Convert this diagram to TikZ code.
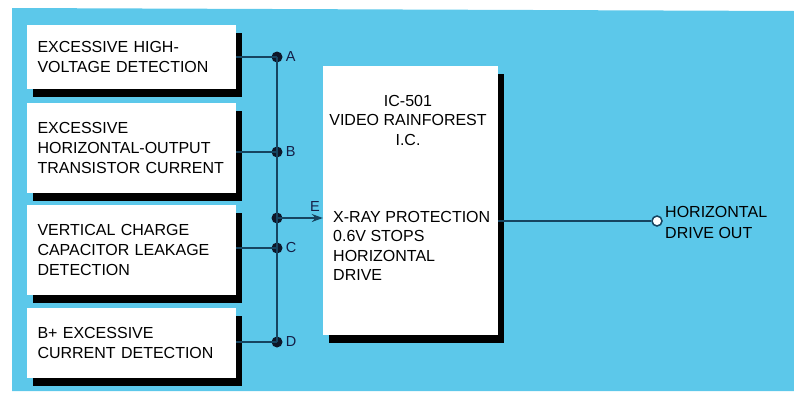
\documentclass[tikz,border=0pt]{standalone}
\usepackage{fontspec}
\setmainfont{Liberation Sans}
\usepackage{tikz}
\usetikzlibrary{arrows.meta,positioning,shadows}
\definecolor{panelblue}{RGB}{92,200,234}
\definecolor{wirecol}{RGB}{22,68,96}
\definecolor{dotcol}{RGB}{14,22,40}
\definecolor{labcol}{RGB}{20,30,70}
\tikzset{
  blk/.style={fill=white, inner sep=0pt, text width=188pt, align=left,
              font=\fontsize{16}{20}\selectfont,
              drop shadow={shadow xshift=6pt, shadow yshift=-8pt, fill=black, opacity=1}},
  icbox/.style={fill=white, minimum width=175pt, minimum height=269pt,
              drop shadow={shadow xshift=6pt, shadow yshift=-8pt, fill=black, opacity=1}},
  ictxt/.style={inner sep=0pt, font=\fontsize{16}{19.5}\selectfont},
  wire/.style={wirecol, line width=1.5pt},
  feed/.style={-{Stealth[length=11pt,width=8pt]}, wirecol, line width=1.5pt},
  jdot/.style={circle, fill=dotcol, inner sep=0pt, minimum size=11pt},
  jlab/.style={font=\fontsize{14.5}{16}\selectfont, text=labcol, inner sep=0pt},
  odot/.style={circle, draw=wirecol, fill=white, line width=1.5pt, inner sep=0pt, minimum size=10pt},
}
\begin{document}
\begin{tikzpicture}[x=1pt, y=-1pt]
  \useasboundingbox (0,0) rectangle (794,399);
  \fill[panelblue] (12,8) -- (794,11) -- (794,391) -- (12,391) -- cycle;

  % detector blocks
  \node[blk, minimum width=209pt, minimum height=64pt] (hv) at (131.5,57)
    {EXCESSIVE HIGH-\\VOLTAGE DETECTION};
  \node[blk, minimum width=209pt, minimum height=90pt] (hot) at (131.5,148)
    {EXCESSIVE\\HORIZONTAL-OUTPUT\\TRANSISTOR CURRENT};
  \node[blk, minimum width=209pt, minimum height=90pt] (vcap) at (131.5,250)
    {VERTICAL CHARGE\\CAPACITOR LEAKAGE\\DETECTION};
  \node[blk, minimum width=209pt, minimum height=70pt] (bplus) at (131.5,343)
    {B+ EXCESSIVE\\CURRENT DETECTION};

  % IC
  \node[icbox] (ic) at (410.5,200.5) {};
  \node[ictxt, align=center] (icname) at (408,120) {IC-501\\VIDEO RAINFOREST\\I.C.};
  \node[ictxt, align=left, anchor=north west] (icprot) at (333,211)
    {X-RAY PROTECTION\\0.6V STOPS\\HORIZONTAL\\DRIVE};

  % bus
  \node[jdot] (A) at (277,57) {};
  \node[jdot] (B) at (277,152) {};
  \node[jdot] (E) at (277,218) {};
  \node[jdot] (C) at (277,248) {};
  \node[jdot] (D) at (277,342) {};
  \draw[wire] (A.center) -- (D.center);
  \foreach \n/\b in {A/hv, B/hot, C/vcap, D/bplus}
    \draw[wire] (\b.east |- \n) -- (\n.center);
  \foreach \n in {A,B,C,D}
    \node[jlab, right=3pt of \n] (lab\n) {\n};
  \draw[feed] (E.center) -- (ic.west |- E);
  \node[jlab] (labE) at (315,207) {E};

  % output
  \node[odot] (out) at (657,221) {};
  \draw[wire] (ic.east |- out) -- (out);
  \node[ictxt, align=left, anchor=west, font=\fontsize{16}{21}\selectfont] (outtxt) at (665,222)
    {HORIZONTAL\\DRIVE OUT};
\end{tikzpicture}
\end{document}
